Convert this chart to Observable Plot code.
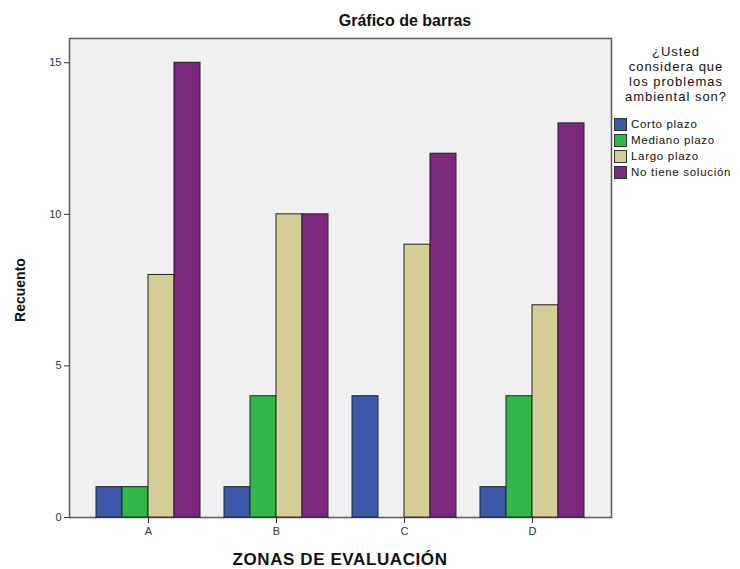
<!DOCTYPE html>
<html>
<head>
<meta charset="utf-8">
<script src="https://cdn.jsdelivr.net/npm/d3@7"></script>
<script src="https://cdn.jsdelivr.net/npm/@observablehq/plot@0.6"></script>
<style>
  body { margin: 0; background: #fff; font-family: "Liberation Sans", Arial, sans-serif; }
  #wrap { position: relative; width: 740px; height: 569px; overflow: hidden; }
  #wrap svg { position: absolute; left: 0; top: 0; }
  .lbl { position: absolute; color: #111; white-space: nowrap; }
  #title { left: 405px; top: 12px; transform: translateX(-50%); font-weight: bold; font-size: 16px; }
  #xlab { left: 340px; top: 550px; transform: translateX(-50%); font-weight: bold; font-size: 17px; letter-spacing: 0.6px; }
  #ylab { left: 20px; top: 290px; transform: translate(-50%, -50%) rotate(-90deg); font-weight: bold; font-size: 14px; }
  #legtitle { left: 676px; top: 44px; transform: translateX(-50%); text-align: center; font-size: 13px; line-height: 15px; letter-spacing: 1.0px; color: #111; }
  #legend { position: absolute; left: 614px; top: 116px; font-size: 11.5px; letter-spacing: 0.7px; color: #111; }
  .item { display: flex; align-items: center; height: 16px; }
  .sw { width: 11px; height: 11px; border: 1px solid #333; margin-right: 4px; flex: none; }
</style>
</head>
<body>
<div id="wrap"></div>
<script>
const zones = ["A", "B", "C", "D"];
const series = ["Corto plazo", "Mediano plazo", "Largo plazo", "No tiene solución"];
const colors = ["#3E58AC", "#2EB848", "#D3CE97", "#7C287D"];
const cortoPlazo = [1, 1, 4, 1];
const medianoPlazo = [1, 4, 0, 4];
const largoPlazo = [8, 10, 9, 7];
const noTieneSolucion = [15, 10, 12, 13];
const yTicks = [0, 5, 10, 15];
const titleText = "Gráfico de barras";
const xLabel = "ZONAS DE EVALUACIÓN";
const yLabel = "Recuento";
const legendTitle = ["¿Usted", "considera que", "los problemas", "ambiental son?"];

const seriesValues = [cortoPlazo, medianoPlazo, largoPlazo, noTieneSolucion];

const W = 740, H = 569;
const mL = 69, mR = 129, mT = 38, mB = 52;
const padIn = 0.1875, padOut = 0.211;
// band width of each zone group, split evenly among the series
const step = (W - mL - mR) / (zones.length - padIn + 2 * padOut);
const bandW = step * (1 - padIn);
const barW = bandW / series.length;

const barMarks = seriesValues.map((arr, j) =>
  Plot.barY(
    zones.map((z, i) => ({ zone: z, serie: series[j], value: arr[i] })).filter(d => d.value > 0),
    {
      x: "zone", y: "value", fill: colors[j],
      stroke: "#222", strokeWidth: 1,
      insetLeft: barW * j, insetRight: barW * (series.length - 1 - j)
    }
  )
);

const plot = Plot.plot({
  width: W,
  height: H,
  marginTop: mT,
  marginBottom: mB,
  marginLeft: mL,
  marginRight: mR,
  style: { fontFamily: "'Liberation Sans', Arial, sans-serif", fontSize: "11px", color: "#333", background: "transparent" },
  x: { domain: zones, paddingInner: padIn, paddingOuter: padOut, round: false, label: null, tickSize: 6, tickPadding: 4 },
  y: { domain: [0, 15.8], ticks: yTicks, tickSize: 5, tickPadding: 3, label: null },
  marks: [
    Plot.frame({ fill: "#f0f0f0", stroke: "#5a5a5a", strokeWidth: 1.5 }),
    ...barMarks
  ]
});

const wrap = document.getElementById("wrap");
wrap.appendChild(plot);

function addLabel(id, html) {
  const d = document.createElement("div");
  d.className = "lbl";
  d.id = id;
  d.innerHTML = html;
  wrap.appendChild(d);
  return d;
}
addLabel("title", titleText);
addLabel("xlab", xLabel);
addLabel("ylab", yLabel);
addLabel("legtitle", legendTitle.join("<br>"));

const leg = document.createElement("div");
leg.id = "legend";
series.forEach((s, j) => {
  const it = document.createElement("div");
  it.className = "item";
  const sw = document.createElement("span");
  sw.className = "sw";
  sw.style.background = colors[j];
  const t = document.createElement("span");
  t.textContent = s;
  it.appendChild(sw);
  it.appendChild(t);
  leg.appendChild(it);
});
wrap.appendChild(leg);
</script>
</body>
</html>
